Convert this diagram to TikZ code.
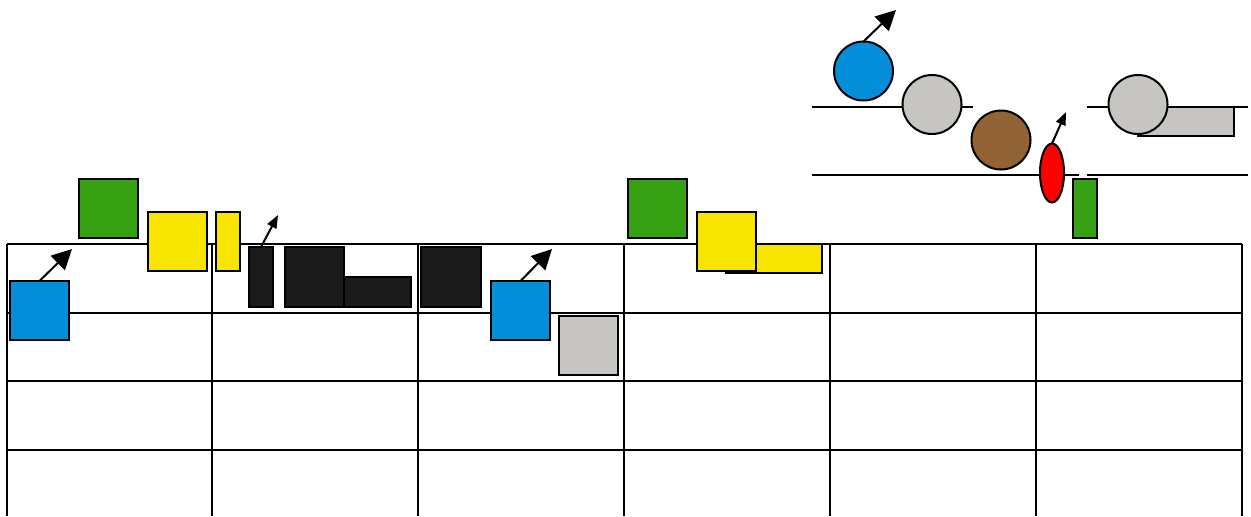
\documentclass[tikz,border=0pt]{standalone}
\usetikzlibrary{arrows.meta,shapes.geometric}
\definecolor{cblue}{RGB}{2,142,217}
\definecolor{cgreen}{RGB}{53,161,19}
\definecolor{cyellow}{RGB}{247,229,0}
\definecolor{cgray}{RGB}{198,197,193}
\definecolor{cblack}{RGB}{26,26,26}
\definecolor{cbrown}{RGB}{146,99,53}
\definecolor{cred}{RGB}{255,0,0}
\tikzset{
  shp/.style={draw=black, line width=1pt, inner sep=0pt, outer sep=0pt},
  boxsq/.style={shp, rectangle, minimum width=29.5pt, minimum height=29.5pt},
  ball/.style={shp, circle, minimum size=29.5pt},
  grid line/.style={line width=1.1pt, black},
  rail/.style={line width=1pt, black},
  bigarrow/.style={line width=1pt, -{Triangle[length=10pt,width=10pt]}},
  smallarrow/.style={line width=1pt, -{Triangle[length=6.5pt,width=5pt]}}
}
\begin{document}
\begin{tikzpicture}[x=0.5pt,y=-0.5pt]
\useasboundingbox (0,0) rectangle (1251,516);
% grid
\foreach \yy in {244,313,381,450} \draw[grid line] (7,\yy) -- (1242,\yy);
\foreach \xx in {7,212,418,624,830,1036,1242} \draw[grid line] (\xx,244) -- (\xx,516);
% left group
\node[boxsq, fill=cgreen] (g1) at (108.5,208.5) {};
\node[boxsq, fill=cyellow] (y1) at (177.5,241.5) {};
\node[shp, fill=cyellow, minimum width=12pt, minimum height=29.5pt] (y2) at (228,241.5) {};
\node[boxsq, fill=cblue] (b1) at (39.5,310.5) {};
\coordinate (b1t) at (72,249);
\draw[bigarrow] (b1.north) -- (b1t);
\node[shp, fill=cblack, minimum width=12pt, minimum height=30pt] (k1) at (261,277) {};
\coordinate (k1t) at (278,215);
\draw[smallarrow] (k1.north) -- (k1t);
\node[shp, fill=cblack, minimum width=33.5pt, minimum height=15pt] (k3) at (377.5,292) {};
\node[shp, fill=cblack, minimum width=29.5pt, minimum height=30pt] (k2) at (314.5,277) {};
\node[shp, fill=cblack, minimum width=30pt, minimum height=30pt] (k4) at (451,277) {};
% middle group
\node[boxsq, fill=cblue] (b2) at (520.5,310.5) {};
\coordinate (b2t) at (552,249);
\draw[bigarrow] (b2.north) -- (b2t);
\node[boxsq, fill=cgray] (gr1) at (588.5,345.5) {};
\node[boxsq, fill=cgreen] (g2) at (657.5,208.5) {};
\node[shp, fill=cyellow, minimum width=48pt, minimum height=14.5pt] (y4) at (774,258.5) {};
\node[boxsq, fill=cyellow] (y3) at (726.5,241.5) {};
% top right rails
\coordinate (r1a) at (812,106.5);
\coordinate (r1b) at (973,106.5);
\coordinate (r1c) at (1087,106.5);
\coordinate (r1d) at (1248,106.5);
\coordinate (r2a) at (812,175);
\coordinate (r2b) at (1079,175);
\coordinate (r2c) at (1087,175);
\coordinate (r2d) at (1248,175);
\draw[rail] (r1a) -- (r1b);
\draw[rail] (r1c) -- (r1d);
\draw[rail] (r2a) -- (r2b);
\draw[rail] (r2c) -- (r2d);
\node[ball, fill=cblue] (c1) at (863.5,71) {};
\coordinate (c1t) at (896,10);
\draw[bigarrow] (c1.north) -- (c1t);
\node[ball, fill=cgray] (c2) at (932,104.5) {};
\node[ball, fill=cbrown] (c3) at (1001,140) {};
\node[shp, ellipse, fill=cred, minimum width=12pt, minimum height=29.5pt] (e1) at (1052,173) {};
\coordinate (e1t) at (1066,112);
\draw[smallarrow] (e1.north) -- (e1t);
\node[shp, fill=cgreen, minimum width=12pt, minimum height=29.5pt] (g3) at (1085,208.5) {};
\node[shp, fill=cgray, minimum width=48pt, minimum height=14.5pt] (gr2) at (1186,121.5) {};
\node[ball, fill=cgray] (c4) at (1138,104.5) {};
\end{tikzpicture}
\end{document}
